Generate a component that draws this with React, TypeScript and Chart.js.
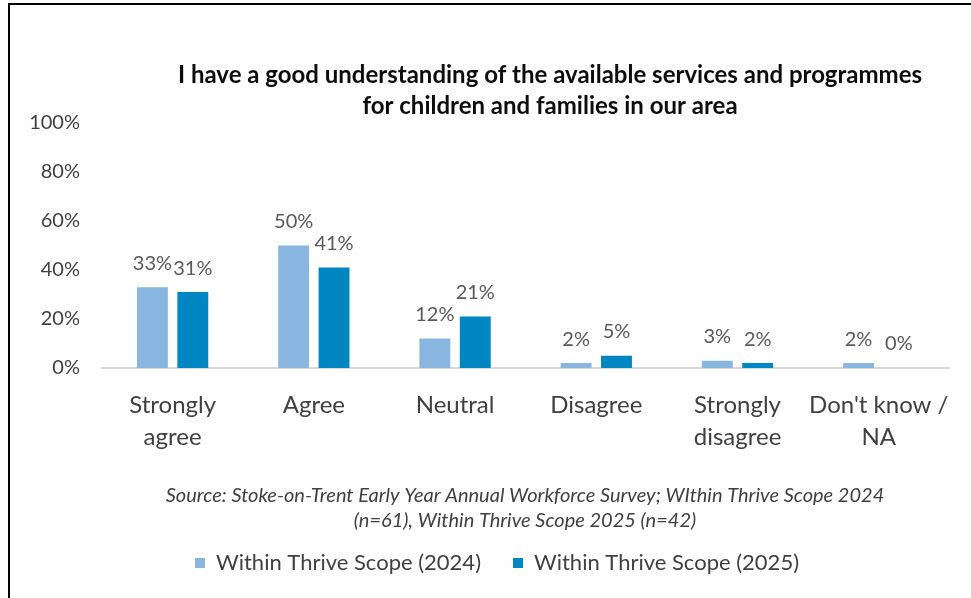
import React, { useEffect, useRef } from "react";
import { Chart, registerables } from "chart.js";

Chart.register(...registerables);

const categories: (string | string[])[] = [
  ["Strongly", "agree"],
  "Agree",
  "Neutral",
  "Disagree",
  ["Strongly", "disagree"],
  ["Don't know /", "NA"],
];
const series2024: number[] = [33, 50, 12, 2, 3, 2];
const series2025: number[] = [31, 41, 21, 5, 2, 0];
const seriesNames: string[] = ["Within Thrive Scope (2024)", "Within Thrive Scope (2025)"];
const yTicks: number[] = [0, 20, 40, 60, 80, 100];
const titleLines: string[] = [
  "I have a good understanding of the available services and programmes",
  "for children and families in our area",
];
const sourceLines: string[] = [
  "Source: Stoke-on-Trent Early Year Annual Workforce Survey; WIthin Thrive Scope 2024",
  "(n=61), Within Thrive Scope 2025 (n=42)",
];

const FONT = "Lato, 'Open Sans', sans-serif";

const textPlugin = {
  id: "textPlugin",
  afterDatasetsDraw(chart: any) {
    const ctx = chart.ctx;
    ctx.save();
    ctx.fillStyle = "#595959";
    ctx.font = `20px ${FONT}`;
    ctx.textAlign = "center";
    ctx.textBaseline = "middle";
    chart.data.datasets.forEach((ds: any, di: number) => {
      const meta = chart.getDatasetMeta(di);
      meta.data.forEach((bar: any, i: number) => {
        ctx.fillText(`${ds.data[i]}%`, bar.x, bar.y - 24);
      });
    });
    ctx.restore();
  },
  afterDraw(chart: any) {
    const ctx = chart.ctx;
    const yScale = chart.scales.y;
    ctx.save();
    // y tick labels
    ctx.textAlign = "right";
    ctx.textBaseline = "middle";
    ctx.fillStyle = "#404040";
    ctx.font = `20px ${FONT}`;
    yTicks.forEach((v) => {
      ctx.fillText(`${v}%`, chart.chartArea.left - 22, yScale.getPixelForValue(v));
    });
    // title
    ctx.textAlign = "center";
    ctx.fillStyle = "#0d0d0d";
    ctx.font = `bold 24px ${FONT}`;
    titleLines.forEach((t, i) => ctx.fillText(t, 550, 75 + i * 31));
    // source note
    ctx.fillStyle = "#404040";
    ctx.font = `italic 20px ${FONT}`;
    sourceLines.forEach((t, i) => ctx.fillText(t, 525, 496 + i * 25));
    ctx.restore();
  },
};

export default function App() {
  const ref = useRef<HTMLCanvasElement | null>(null);
  useEffect(() => {
    if (!ref.current) return;
    const chart = new Chart(ref.current, {
      type: "bar",
      data: {
        labels: categories,
        datasets: [
          {
            label: seriesNames[0],
            data: series2024,
            backgroundColor: "#88B6E1",
            categoryPercentage: 0.572,
            barPercentage: 0.765,
          },
          {
            label: seriesNames[1],
            data: series2025,
            backgroundColor: "#0087C1",
            categoryPercentage: 0.572,
            barPercentage: 0.765,
          },
        ],
      },
      options: {
        animation: false,
        responsive: false,
        maintainAspectRatio: false,
        layout: { padding: { left: 42, right: 19, top: 123, bottom: 14 } },
        plugins: {
          title: { display: false },
          tooltip: { enabled: false },
          legend: {
            position: "bottom",
            labels: {
              boxWidth: 10,
              boxHeight: 10,
              padding: 32,
              color: "#404040",
              font: { family: FONT, size: 22 },
            },
          },
        },
        scales: {
          x: {
            grid: { display: false, drawTicks: false },
            border: { display: true, color: "#d9d9d9", width: 2 },
            ticks: {
              color: "#404040",
              padding: 21,
              maxRotation: 0,
              autoSkip: false,
              font: { family: FONT, size: 24, lineHeight: "32px" },
            },
            afterFit(scale: any) {
              scale.height = 152;
            },
          },
          y: {
            min: 0,
            max: 100,
            grid: { display: false, drawTicks: false },
            border: { display: false },
            afterBuildTicks(scale: any) {
              scale.ticks = yTicks.map((v) => ({ value: v }));
            },
            ticks: { display: false },
            afterFit(scale: any) {
              scale.width = 60;
            },
          },
        },
      },
      plugins: [textPlugin],
    });
    return () => chart.destroy();
  }, []);

  return (
    <div
      style={{
        position: "fixed",
        left: 0,
        top: 0,
        width: 971,
        height: 598,
        overflow: "hidden",
        background: "#fff",
      }}
    >
      <canvas ref={ref} width={971} height={598} style={{ position: "absolute", left: 0, top: 0 }} />
      <div
        style={{
          position: "absolute",
          left: 8,
          top: 3,
          width: 1000,
          height: 700,
          borderLeft: "2px solid #000",
          borderTop: "2px solid #000",
          pointerEvents: "none",
        }}
      />
    </div>
  );
}
